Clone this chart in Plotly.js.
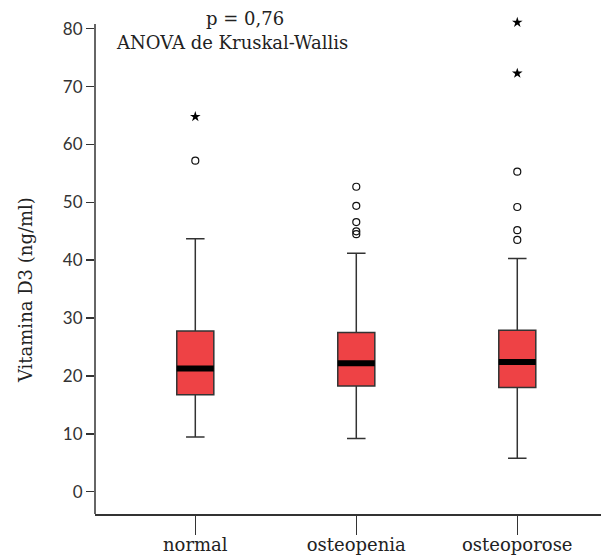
<!DOCTYPE html>
<html>
<head>
<meta charset="utf-8">
<script src="https://cdn.plot.ly/plotly-3.0.1.min.js"></script>
<style>html,body{margin:0;padding:0;background:#fff}#chart{width:601px;height:558px}</style>
</head>
<body>
<div id="chart"></div>
<script>
const categories = ['normal', 'osteopenia', 'osteoporose'];
const q1 = [16.75, 18.25, 18.0];
const medians = [21.3, 22.2, 22.4];
const q3 = [27.75, 27.5, 27.9];
const lowerWhisker = [9.45, 9.2, 5.8];
const upperWhisker = [43.7, 41.2, 40.3];
const circleGroup = ['normal', 'osteopenia', 'osteopenia', 'osteopenia', 'osteopenia', 'osteopenia', 'osteoporose', 'osteoporose', 'osteoporose', 'osteoporose'];
const circleValues = [57.2, 52.7, 49.4, 46.6, 45.0, 44.5, 55.3, 49.2, 45.2, 43.5];
const starGroup = ['normal', 'osteoporose', 'osteoporose'];
const starValues = [64.8, 81.1, 72.3];
const tickValuesY = [0, 10, 20, 30, 40, 50, 60, 70, 80];

const pos = categories.map((c, i) => i);
const idx = g => categories.indexOf(g);
const boxW = 0.23;

const medX = [], medY = [];
pos.forEach((p, i) => { medX.push(p - boxW / 2, p + boxW / 2, null); medY.push(medians[i], medians[i], null); });

const serif = 'DejaVu Serif';
const yMin = -3.85, yTop = 82.2, yAxisEnd = 80.8;
const pxPerUnit = 5.79;
const plotH = (yTop - yMin) * pxPerUnit;
const bottomPx = 514;
const topPx = bottomPx - plotH;

const data = [
  {
    type: 'box', x: pos, q1: q1, median: medians, q3: q3,
    lowerfence: lowerWhisker, upperfence: upperWhisker,
    width: boxW, whiskerwidth: 0.5, boxpoints: false,
    fillcolor: '#EE4245', line: {color: '#333333', width: 1.5},
    hoverinfo: 'skip', showlegend: false
  },
  {
    type: 'scatter', mode: 'lines', x: medX, y: medY,
    line: {color: '#000000', width: 6}, hoverinfo: 'skip', showlegend: false
  },
  {
    type: 'scatter', mode: 'markers', x: circleGroup.map(idx), y: circleValues,
    marker: {symbol: 'circle-open', size: 7, color: '#111', line: {width: 1.2, color: '#111'}},
    showlegend: false
  },
  {
    type: 'scatter', mode: 'markers', x: starGroup.map(idx), y: starValues,
    marker: {symbol: 'star', size: 8, color: '#000'},
    showlegend: false
  }
];

const layout = {
  width: 601, height: 558,
  margin: {l: 95, r: 0, t: topPx, b: 558 - bottomPx},
  paper_bgcolor: '#fff', plot_bgcolor: '#fff',
  showlegend: false,
  xaxis: {
    range: [-0.623, 2.52], tickvals: pos, ticktext: categories,
    showgrid: false, zeroline: false, showline: true, linecolor: '#333', linewidth: 1.5,
    ticks: 'outside', ticklen: 19, tickwidth: 1.5, tickcolor: '#333',
    ticklabelstandoff: -5,
    tickfont: {family: serif, size: 18, color: '#222'}
  },
  yaxis: {
    range: [yMin, yTop], tickvals: tickValuesY,
    showgrid: false, zeroline: false, showline: false,
    ticks: 'outside', ticklen: 8, tickwidth: 1.5, tickcolor: '#333',
    tickfont: {family: 'Lato', size: 17, color: '#333'}
  },
  shapes: [
    {type: 'line', xref: 'paper', yref: 'y', x0: 0, x1: 0, y0: yMin, y1: yAxisEnd,
     line: {color: '#333', width: 1.5}}
  ],
  annotations: [
    {text: 'p = 0,76', xref: 'paper', yref: 'paper', x: (245 - 95) / 506, y: (bottomPx - 18) / plotH,
     xanchor: 'center', yanchor: 'middle', showarrow: false, font: {family: serif, size: 18, color: '#222'}},
    {text: 'ANOVA de Kruskal-Wallis', xref: 'paper', yref: 'paper', x: (232 - 95) / 506, y: (bottomPx - 42) / plotH,
     xanchor: 'center', yanchor: 'middle', showarrow: false, font: {family: serif, size: 18, color: '#222'}},
    {text: 'Vitamina D3 (ng/ml)', xref: 'paper', yref: 'paper', x: (25 - 95) / 506, y: (bottomPx - 290) / plotH,
     xanchor: 'center', yanchor: 'middle', textangle: -90, showarrow: false, font: {family: serif, size: 18, color: '#222'}}
  ]
};

Plotly.newPlot('chart', data, layout, {staticPlot: true, displayModeBar: false});
</script>
</body>
</html>
